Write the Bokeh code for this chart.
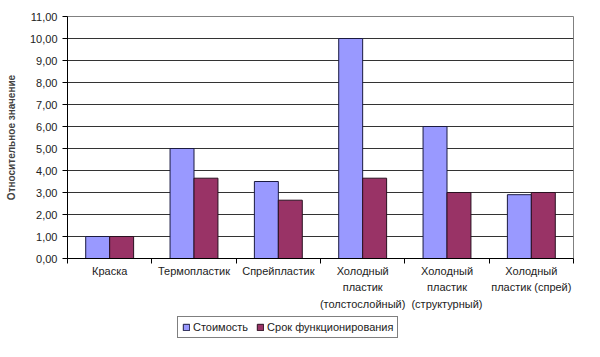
import numpy as np
from bokeh.plotting import figure
from bokeh.layouts import column
from bokeh.models import ColumnDataSource, Range1d, FixedTicker, Legend, LegendItem
from bokeh.transform import dodge
from bokeh.embed import file_html
from bokeh.resources import INLINE

categories = ["Краска", "Термопластик", "Спрейпластик",
              "Холодный\nпластик\n(толстослойный)",
              "Холодный\nпластик\n(структурный)",
              "Холодный\nпластик (спрей)"]
cost = [1.0, 5.0, 3.5, 10.0, 6.0, 2.9]
lifetime = [1.0, 3.65, 2.65, 3.65, 3.0, 3.0]
series_names = ["Стоимость", "Срок функционирования"]
y_ticks = list(range(0, 12))

colors = ["#9999FF", "#993366"]
font = "Liberation Sans"

pos = list(np.arange(len(categories)) + 0.5)
src = ColumnDataSource(dict(x=pos, cost=cost, life=lifetime))

p = figure(frame_width=506, frame_height=242, output_backend="svg", toolbar_location=None,
           x_range=Range1d(0, len(categories)), y_range=Range1d(0, 11),
           min_border_left=67, min_border_right=27, min_border_top=16, min_border_bottom=57)
p.outline_line_color = "#808080"
p.background_fill_color = "white"

p.vbar(x=dodge("x", -0.142, range=p.x_range), top="cost", width=0.284, source=src,
       fill_color=colors[0], line_color="#1a1a40", line_width=1)
p.vbar(x=dodge("x", 0.142, range=p.x_range), top="life", width=0.284, source=src,
       fill_color=colors[1], line_color="#2a1020", line_width=1)

# x axis
xa = p.xaxis[0]
xa.ticker = FixedTicker(ticks=pos, minor_ticks=list(range(0, len(categories) + 1)))
xa.major_label_overrides = {float(v): c for v, c in zip(pos, categories)}
xa.major_tick_line_color = None
xa.major_tick_out = 0
xa.major_tick_in = 0
xa.minor_tick_line_color = "black"
xa.minor_tick_out = 5
xa.minor_tick_in = 0
xa.axis_line_color = "black"
xa.major_label_text_font = font
xa.major_label_text_font_size = "11px"
xa.major_label_text_color = "#222222"
xa.major_label_text_line_height = 1.4
xa.major_label_standoff = 1
p.xgrid.grid_line_color = None

# y axis
ya = p.yaxis[0]
ya.ticker = FixedTicker(ticks=y_ticks, minor_ticks=[])
ya.major_label_overrides = {t: f"{t:.2f}".replace(".", ",") for t in y_ticks}
ya.major_tick_out = 5
ya.major_tick_in = 0
ya.axis_line_color = "black"
ya.major_label_text_font = font
ya.major_label_text_font_size = "11px"
ya.major_label_text_color = "#222222"
ya.axis_label = "Относительное значение"
ya.axis_label_text_font = font
ya.axis_label_text_font_size = "10px"
ya.axis_label_text_font_style = "bold"
ya.axis_label_standoff = 10
p.ygrid.grid_line_color = "#333333"
p.ygrid.grid_line_width = 1

# legend in its own small figure below the chart
lg = figure(width=600, height=42, output_backend="svg", toolbar_location=None,
            x_axis_location=None, y_axis_location=None,
            x_range=Range1d(0, 1), y_range=Range1d(0, 1),
            min_border_left=0, min_border_right=0, min_border_top=0, min_border_bottom=0)
lg.outline_line_color = None
lg.xgrid.grid_line_color = None
lg.ygrid.grid_line_color = None
d1 = lg.vbar(x=[-10], top=[-10], bottom=[-11], width=0.1,
             fill_color=colors[0], line_color="#1a1a40")
d2 = lg.vbar(x=[-10], top=[-10], bottom=[-11], width=0.1,
             fill_color=colors[1], line_color="#2a1020")
legend = Legend(items=[LegendItem(label=series_names[0], renderers=[d1]),
                       LegendItem(label=series_names[1], renderers=[d2])],
                orientation="horizontal", location=(110, 19),
                label_text_font=font, label_text_font_size="11px",
                label_text_color="#222222",
                glyph_width=8, glyph_height=8, spacing=8, padding=4, margin=0,
                label_standoff=3, border_line_color="black",
                label_height=12, background_fill_alpha=1.0)
lg.add_layout(legend, "center")

layout = column(p, lg, spacing=0)
open("out.html", "w").write(file_html(layout, INLINE))
